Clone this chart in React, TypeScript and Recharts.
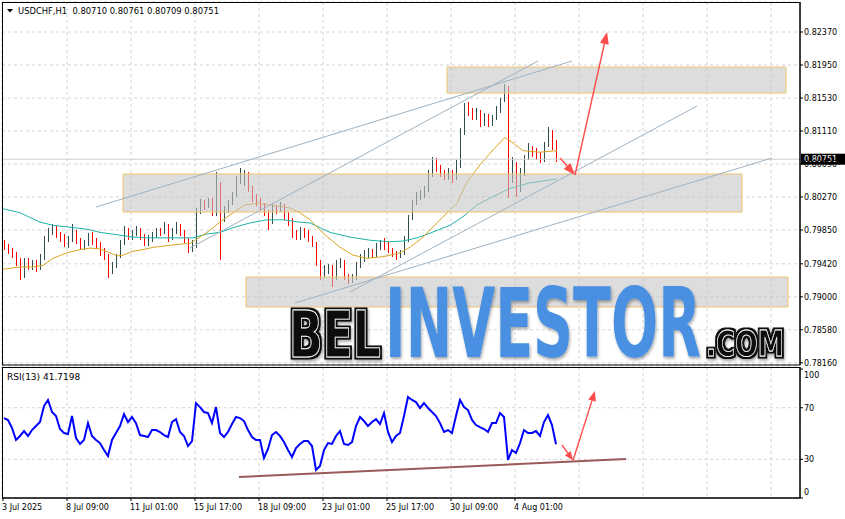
import React from 'react';
import {
  ComposedChart,
  Bar,
  Line,
  XAxis,
  YAxis,
  CartesianGrid,
  ReferenceArea,
  ReferenceLine,
} from 'recharts';

// USDCHF H1, one candle per 4 hourly bars (oldest first)
const opens = [
  0.7968, 0.7963, 0.796, 0.7954, 0.7944, 0.7926, 0.7944, 0.7939, 0.7943, 0.7937,
  0.7951, 0.7975, 0.7982, 0.7985, 0.7979, 0.7975, 0.7967, 0.7972, 0.7982, 0.7972,
  0.7963, 0.7967, 0.7977, 0.797, 0.7967, 0.7957, 0.7952, 0.7932, 0.7939, 0.7951,
  0.7968, 0.7984, 0.7977, 0.7981, 0.7985, 0.7977, 0.7968, 0.7975, 0.7977, 0.7984,
  0.7982, 0.799, 0.7975, 0.7982, 0.799, 0.7982, 0.7972, 0.7962, 0.7966, 0.8008,
  0.8019, 0.8017, 0.8023, 0.8007, 0.8042, 0.8004, 0.8009, 0.8019, 0.803, 0.8049,
  0.8051, 0.8054, 0.8036, 0.8026, 0.8023, 0.8017, 0.8008, 0.7995, 0.8013, 0.801,
  0.8016, 0.8005, 0.7995, 0.7979, 0.7977, 0.7982, 0.7981, 0.7975, 0.7967, 0.7944,
  0.7926, 0.7934, 0.7937, 0.7924, 0.794, 0.7943, 0.7926, 0.7921, 0.7924, 0.7939,
  0.7949, 0.7953, 0.7957, 0.7953, 0.7962, 0.7967, 0.7966, 0.796, 0.7954, 0.7952,
  0.7956, 0.7972, 0.8, 0.8019, 0.8028, 0.803, 0.8036, 0.8055, 0.8072, 0.8064,
  0.8056, 0.8054, 0.8059, 0.8051, 0.8068, 0.811, 0.814, 0.8134, 0.813, 0.8135,
  0.8122, 0.813, 0.8121, 0.8128, 0.8138, 0.815, 0.8163, 0.8055, 0.8068, 0.8038,
  0.8059, 0.8077, 0.8087, 0.8083, 0.8078, 0.8074, 0.8093, 0.8106, 0.8096,
];
const highs = [
  0.7972, 0.7967, 0.7962, 0.7957, 0.7949, 0.7949, 0.7949, 0.7947, 0.7947, 0.7954,
  0.7977, 0.7988, 0.7993, 0.799, 0.7982, 0.798, 0.7977, 0.7993, 0.7985, 0.7975,
  0.7972, 0.7981, 0.7982, 0.7975, 0.797, 0.7962, 0.7954, 0.7944, 0.7954, 0.7972,
  0.799, 0.7988, 0.7985, 0.799, 0.7988, 0.798, 0.7979, 0.7982, 0.7988, 0.7988,
  0.7995, 0.7993, 0.7988, 0.7995, 0.7993, 0.7985, 0.7975, 0.7972, 0.8013, 0.8024,
  0.8023, 0.8026, 0.8026, 0.8059, 0.8046, 0.8016, 0.8023, 0.8033, 0.8054, 0.8064,
  0.8061, 0.8059, 0.8041, 0.8031, 0.8026, 0.8019, 0.801, 0.8018, 0.8017, 0.8021,
  0.8018, 0.8008, 0.8, 0.7985, 0.7989, 0.7988, 0.7985, 0.7977, 0.797, 0.7947,
  0.794, 0.7942, 0.794, 0.7947, 0.7949, 0.7947, 0.7929, 0.7929, 0.7944, 0.7954,
  0.796, 0.7962, 0.7961, 0.7968, 0.7972, 0.7975, 0.797, 0.7962, 0.7958, 0.796,
  0.7977, 0.8004, 0.8023, 0.8033, 0.8036, 0.8041, 0.8061, 0.8078, 0.8077, 0.8068,
  0.8061, 0.8064, 0.8061, 0.8074, 0.8115, 0.8147, 0.8148, 0.814, 0.814, 0.8138,
  0.8134, 0.8133, 0.8131, 0.8143, 0.8153, 0.8171, 0.8168, 0.8078, 0.8072, 0.8064,
  0.808, 0.8096, 0.8092, 0.8089, 0.8084, 0.8097, 0.8116, 0.8112, 0.81,
];
const lows = [
  0.796, 0.7954, 0.7949, 0.7939, 0.7921, 0.7924, 0.7934, 0.7934, 0.7932, 0.7934,
  0.7947, 0.797, 0.7979, 0.7975, 0.797, 0.7963, 0.7962, 0.797, 0.7967, 0.796,
  0.796, 0.7965, 0.7966, 0.7962, 0.7952, 0.7947, 0.7924, 0.7929, 0.7937, 0.7949,
  0.7966, 0.7972, 0.7972, 0.7977, 0.7972, 0.7965, 0.7965, 0.797, 0.7975, 0.7977,
  0.798, 0.797, 0.7972, 0.798, 0.7977, 0.7968, 0.7956, 0.7957, 0.7962, 0.8005,
  0.801, 0.8013, 0.8003, 0.8003, 0.7947, 0.7995, 0.8007, 0.8017, 0.8027, 0.8044,
  0.8041, 0.8033, 0.8021, 0.8016, 0.801, 0.8003, 0.7985, 0.7993, 0.8005, 0.8008,
  0.7998, 0.799, 0.7975, 0.7972, 0.7972, 0.7975, 0.797, 0.7963, 0.7939, 0.7921,
  0.7924, 0.7929, 0.7912, 0.7921, 0.7937, 0.7921, 0.7916, 0.7918, 0.7921, 0.7937,
  0.7944, 0.7949, 0.7949, 0.7951, 0.796, 0.796, 0.7956, 0.7951, 0.7947, 0.7949,
  0.7953, 0.797, 0.7998, 0.8017, 0.8023, 0.8026, 0.8033, 0.8052, 0.8059, 0.8052,
  0.8049, 0.8049, 0.8045, 0.8049, 0.8064, 0.8106, 0.813, 0.8125, 0.8125, 0.8116,
  0.8117, 0.8116, 0.8117, 0.8125, 0.8134, 0.8148, 0.8026, 0.8045, 0.8027, 0.8033,
  0.8054, 0.8074, 0.8078, 0.8074, 0.807, 0.8072, 0.8091, 0.8087, 0.8072,
];
const closes = [
  0.7963, 0.796, 0.7954, 0.7944, 0.7926, 0.7944, 0.7939, 0.7943, 0.7937, 0.7951,
  0.7975, 0.7982, 0.7985, 0.7979, 0.7975, 0.7967, 0.7972, 0.7982, 0.7972, 0.7963,
  0.7967, 0.7977, 0.797, 0.7967, 0.7957, 0.7952, 0.7932, 0.7939, 0.7951, 0.7968,
  0.7984, 0.7977, 0.7981, 0.7985, 0.7977, 0.7968, 0.7975, 0.7977, 0.7984, 0.7982,
  0.799, 0.7975, 0.7982, 0.799, 0.7982, 0.7972, 0.7962, 0.7966, 0.8008, 0.8019,
  0.8017, 0.8023, 0.8007, 0.8042, 0.8004, 0.8009, 0.8019, 0.803, 0.8049, 0.8051,
  0.8054, 0.8036, 0.8026, 0.8023, 0.8017, 0.8008, 0.7995, 0.8013, 0.801, 0.8016,
  0.8005, 0.7995, 0.7979, 0.7977, 0.7982, 0.7981, 0.7975, 0.7967, 0.7944, 0.7926,
  0.7934, 0.7937, 0.7924, 0.794, 0.7943, 0.7926, 0.7921, 0.7924, 0.7939, 0.7949,
  0.7953, 0.7957, 0.7953, 0.7962, 0.7967, 0.7966, 0.796, 0.7954, 0.7952, 0.7956,
  0.7972, 0.8, 0.8019, 0.8028, 0.803, 0.8036, 0.8055, 0.8072, 0.8064, 0.8056,
  0.8054, 0.8059, 0.8051, 0.8068, 0.811, 0.814, 0.8134, 0.813, 0.8135, 0.8122,
  0.813, 0.8121, 0.8128, 0.8138, 0.815, 0.8163, 0.8055, 0.8068, 0.8038, 0.8059,
  0.8077, 0.8087, 0.8083, 0.8078, 0.8074, 0.8093, 0.8106, 0.8096, 0.8075,
];
const rsi13 = [
  62.0, 60.5, 54.3, 45.0, 48.1, 51.9, 48.1, 52.7, 55.8, 58.9,
  71.3, 76.0, 66.7, 63.6, 53.5, 50.4, 49.6, 63.6, 46.5, 41.9,
  45.0, 58.1, 48.1, 45.0, 42.6, 37.2, 32.6, 45.0, 50.4, 55.8,
  65.1, 58.9, 62.8, 58.1, 48.8, 48.1, 47.3, 52.7, 52.7, 51.2,
  48.8, 47.3, 58.9, 61.2, 51.2, 48.1, 40.3, 44.2, 73.6, 70.5,
  66.7, 65.9, 58.1, 70.5, 50.4, 47.3, 51.2, 57.4, 62.8, 62.0,
  59.7, 52.7, 47.3, 45.0, 45.0, 31.0, 38.0, 48.8, 51.2, 48.1,
  43.4, 37.2, 31.8, 38.8, 41.9, 44.2, 44.2, 40.3, 21.7, 24.8,
  37.2, 42.6, 41.9, 48.1, 51.9, 41.9, 41.1, 43.4, 55.8, 62.8,
  59.7, 55.8, 58.9, 61.2, 57.4, 65.9, 51.2, 43.4, 48.1, 50.4,
  63.6, 78.3, 76.0, 74.4, 69.8, 73.6, 69.8, 66.7, 63.6, 58.1,
  51.2, 52.7, 50.4, 63.6, 76.0, 70.5, 68.2, 60.5, 56.6, 55.0,
  53.5, 51.2, 58.1, 58.1, 65.9, 62.8, 29.5, 37.2, 34.9, 42.6,
  52.7, 50.4, 50.4, 51.9, 48.1, 58.9, 64.3, 56.6, 41.7,
];

// moving averages sampled along the chart: bar position / value
const maFastPos = [
  0.25, 4.5, 7.75, 10.25, 12.75, 16.25, 19.5, 22, 24.5, 27, 28.75, 30.25, 32.75, 35.25, 37.75, 41.25,
  44.5, 47, 49.5, 51.25, 54.5, 57.75, 60.75, 64, 68.25, 72, 74.5, 77, 80.25, 84.5, 87.75, 91.25,
  95.25, 99.5, 102, 105.25, 109.5, 113.75, 116.25, 119.5, 122.75, 125.75, 127.75, 130.25, 134.5, 138.75,
];
const maFastVal = [
  0.7935, 0.7938, 0.7938, 0.794, 0.7949, 0.7956, 0.796, 0.7962, 0.7961, 0.7956, 0.7952, 0.7953, 0.7958, 0.796, 0.7963, 0.7965,
  0.7967, 0.7968, 0.7976, 0.7982, 0.7995, 0.8007, 0.8017, 0.8019, 0.8016, 0.8013, 0.8007, 0.7998, 0.7981, 0.7963, 0.7953, 0.7949,
  0.7951, 0.7956, 0.7963, 0.7976, 0.7998, 0.8019, 0.8046, 0.8068, 0.8087, 0.8103, 0.8096, 0.8086, 0.8084, 0.8086,
];
const maSlowPos = [
  0.25, 4.5, 9.5, 12.75, 16.25, 21.25, 24.5, 28.75, 32.75, 37, 41.25, 45.25, 47.75, 51.25, 54.5, 57.75, 62, 66.25,
  70.25, 74.5, 77, 82, 87, 92, 97, 100.25, 103.75, 107, 112, 115.25, 118.75, 123.75, 127, 132, 138.75,
];
const maSlowVal = [
  0.8012, 0.8007, 0.7995, 0.7991, 0.7989, 0.7986, 0.7982, 0.7979, 0.7976, 0.7975, 0.7975, 0.7975, 0.7975, 0.798, 0.7982, 0.7988, 0.7994, 0.7998,
  0.7998, 0.7995, 0.7994, 0.7982, 0.7976, 0.7972, 0.797, 0.7971, 0.7975, 0.7981, 0.7991, 0.8002, 0.8017, 0.803, 0.8038, 0.8045, 0.805,
];

const priceTicks = [0.7816, 0.7858, 0.79, 0.7942, 0.7985, 0.8027, 0.8069, 0.8111, 0.8153, 0.8195, 0.8237];
const rsiTicks = [0, 30, 70, 100];
const timeTicks = [0.25, 16.25, 32.25, 48.25, 64.25, 80.25, 96.25, 112.25, 128.25];
const timeLabels = [
  '3 Jul 2025', '8 Jul 09:00', '11 Jul 01:00', '15 Jul 17:00', '18 Jul 09:00',
  '23 Jul 01:00', '25 Jul 17:00', '30 Jul 09:00', '4 Aug 01:00',
];
const gridTicks = [
  8.25, 16.25, 24.25, 32.25, 40.25, 48.25, 56.25, 64.25, 72.25, 80.25, 88.25, 96.25,
  104.25, 112.25, 120.25, 128.25, 136.25, 144.25, 152.25, 160.25, 168.25, 176.25, 184.25, 192.25,
];
const lastPrice = 0.80751;
const headerText = 'USDCHF,H1  0.80710 0.80761 0.80709 0.80751';
const rsiText = 'RSI(13) 41.7198';

const X_DOMAIN = [0, 199.5];
const PRICE_DOMAIN = [0.78132, 0.82752];
const RSI_DOMAIN = [0, 101.6];

const BULL = '#2F4F4F';
const BEAR = '#FF0000';
const DRAW = '#FF4C4C';
const TREND = '#9EB2C2';
const ZONE_FILL = 'rgba(196,196,196,0.58)';
const ZONE_EDGE = '#F0C46E';
const GRID = '#d4d4d4';

const Candle = (props: any) => {
  const { x, y, width, height, payload } = props;
  if (x == null || !payload) return <g />;
  const top = height >= 0 ? y : y + height;
  const h = Math.abs(height);
  const { open, close, high, low } = payload;
  const k = h / (high - low || 1e-9);
  const yo = top + (high - open) * k;
  const yc = top + (high - close) * k;
  const color = close >= open ? BULL : BEAR;
  const left = Math.round(x);
  const w = Math.round(width);
  return (
    <g shapeRendering="crispEdges">
      <rect x={left + Math.floor(w / 2)} y={top} width={1} height={Math.max(h, 1)} fill={color} />
      <rect x={left} y={Math.min(yo, yc)} width={w} height={Math.max(1, Math.abs(yc - yo))} fill={color} />
    </g>
  );
};

const Arrow = (props: any) => {
  const { x1, y1, x2, y2, stroke, head = 12, half = 4.5 } = props;
  if (x1 == null) return <g />;
  const a = Math.atan2(y2 - y1, x2 - x1);
  const bx = x2 - head * Math.cos(a);
  const by = y2 - head * Math.sin(a);
  const px = -Math.sin(a) * half;
  const py = Math.cos(a) * half;
  return (
    <g>
      <line x1={x1} y1={y1} x2={bx} y2={by} stroke={stroke} strokeWidth={1.4} />
      <polygon points={`${x2},${y2} ${bx + px},${by + py} ${bx - px},${by - py}`} fill={stroke} />
    </g>
  );
};

const PriceTag = (props: any) => {
  const vb = props.viewBox;
  if (!vb) return null;
  const x = vb.x + vb.width + 1;
  return (
    <g>
      <rect x={x} y={vb.y - 5.5} width={44} height={11} fill="#000" />
      <text x={x + 3} y={vb.y + 3} fontSize={8} fill="#fff">{lastPrice.toFixed(5)}</text>
    </g>
  );
};

const RsiTick = (props: any) => {
  const { x, y, payload } = props;
  const shift = payload.value === 100 ? 6 : payload.value === 0 ? -6 : 0;
  return (
    <text x={x} y={y + shift} dy="0.355em" fontSize={8} fill="#000" textAnchor="start">
      {payload.value}
    </text>
  );
};

const TimeTick = (props: any) => {
  const { x, y, payload } = props;
  const idx = timeTicks.indexOf(payload.value);
  return (
    <text x={x - 1} y={y} dy="0.71em" fontSize={8} fill="#000" textAnchor="start">
      {timeLabels[idx]}
    </text>
  );
};

// squeezed bold lettering for the watermark (scaled horizontally, so its box stays tight)
const Squeezed = ({ x, y, width, size, squeeze, children, ...rest }: any) => (
  <text
    transform={`translate(${x},${y}) scale(${squeeze},1)`}
    x={0}
    y={0}
    fontSize={size}
    textLength={width / squeeze}
    lengthAdjust="spacingAndGlyphs"
    {...rest}
  >
    {children}
  </text>
);

export default function App() {
  const bars = closes.map((c, k) => ({
    i: k + 0.5,
    open: opens[k],
    high: highs[k],
    low: lows[k],
    close: c,
    rsi: rsi13[k],
  }));
  const maFast = maFastPos.map((i, k) => ({ i, ma: maFastVal[k] }));
  const maSlow = maSlowPos.map((i, k) => ({ i, ma: maSlowVal[k] }));

  return (
    <div style={{ position: 'absolute', left: 0, top: 0, width: 845, height: 519, background: '#fff', fontFamily: '"DejaVu Sans", sans-serif' }}>
      <div style={{ position: 'absolute', left: 0, top: 0 }}>
        <ComposedChart width={845} height={367} data={bars} margin={{ top: 2, right: 0, bottom: 2, left: 2 }}>
          <CartesianGrid stroke={GRID} strokeDasharray="3 3" />
          <XAxis dataKey="i" type="number" domain={X_DOMAIN} ticks={gridTicks} hide allowDataOverflow />
          <YAxis
            orientation="right"
            width={45}
            domain={PRICE_DOMAIN}
            ticks={priceTicks}
            interval={0}
            allowDataOverflow
            tickFormatter={(v: number) => v.toFixed(5)}
            tick={{ fontSize: 8, fill: '#000' }}
            tickSize={3}
            tickMargin={1}
            axisLine={{ stroke: '#000' }}
            tickLine={{ stroke: '#000' }}
          />
          <Line data={maSlow} dataKey="ma" stroke="#20B2AA" strokeWidth={1} dot={false} isAnimationActive={false} />
          <Line data={maFast} dataKey="ma" stroke="#DAA520" strokeWidth={1} dot={false} isAnimationActive={false} />
          <Bar dataKey={(d: any) => [d.low, d.high]} barSize={3} shape={Candle} isAnimationActive={false} />
          <ReferenceArea x1={111.25} x2={196} y1={0.81593} y2={0.81924} fill={ZONE_FILL} fillOpacity={1} stroke={ZONE_EDGE} ifOverflow="visible" zIndex={450} />
          <ReferenceArea x1={30.25} x2={185} y1={0.80079} y2={0.80563} fill={ZONE_FILL} fillOpacity={1} stroke={ZONE_EDGE} ifOverflow="visible" zIndex={450} />
          <ReferenceArea x1={61} x2={196.5} y1={0.7887} y2={0.79252} fill={ZONE_FILL} fillOpacity={1} stroke={ZONE_EDGE} ifOverflow="visible" zIndex={450} />
          <ReferenceLine y={lastPrice} stroke="#cfcfcf" label={<PriceTag />} ifOverflow="visible" />
          <ReferenceLine segment={[{ x: 23.5, y: 0.80143 }, { x: 142.5, y: 0.82001 }]} stroke={TREND} ifOverflow="visible" zIndex={460} />
          <ReferenceLine segment={[{ x: 47, y: 0.79621 }, { x: 134, y: 0.82001 }]} stroke={TREND} ifOverflow="visible" zIndex={460} />
          <ReferenceLine segment={[{ x: 87, y: 0.79061 }, { x: 173.75, y: 0.81428 }]} stroke={TREND} ifOverflow="visible" zIndex={460} />
          <ReferenceLine segment={[{ x: 73.25, y: 0.78921 }, { x: 192.5, y: 0.80766 }]} stroke={TREND} ifOverflow="visible" zIndex={460} />
          <ReferenceLine segment={[{ x: 139.5, y: 0.80766 }, { x: 143.25, y: 0.8055 }]} stroke={DRAW} shape={Arrow} ifOverflow="visible" zIndex={470} />
          <ReferenceLine segment={[{ x: 143.25, y: 0.8055 }, { x: 151.25, y: 0.8237 }]} stroke={DRAW} shape={Arrow} ifOverflow="visible" zIndex={470} />
        </ComposedChart>
      </div>
      <div style={{ position: 'absolute', left: 0, top: 365 }}>
        <ComposedChart width={845} height={154} data={bars} margin={{ top: 2, right: 0, bottom: 0, left: 2 }}>
          <XAxis xAxisId="g" dataKey="i" type="number" domain={X_DOMAIN} ticks={gridTicks} hide allowDataOverflow />
          <YAxis yAxisId="g" domain={RSI_DOMAIN} ticks={[30, 70]} hide allowDataOverflow />
          <CartesianGrid xAxisId="g" yAxisId="g" stroke={GRID} strokeDasharray="3 3" />
          <XAxis
            dataKey="i"
            type="number"
            domain={X_DOMAIN}
            ticks={timeTicks}
            interval={0}
            allowDataOverflow
            height={21}
            tick={<TimeTick />}
            tickSize={3}
            tickMargin={3}
            axisLine={{ stroke: '#000' }}
            tickLine={{ stroke: '#000' }}
          />
          <YAxis
            orientation="right"
            width={45}
            domain={RSI_DOMAIN}
            ticks={rsiTicks}
            interval={0}
            allowDataOverflow
            tick={<RsiTick />}
            tickSize={3}
            tickMargin={1}
            axisLine={{ stroke: '#000' }}
            tickLine={{ stroke: '#000' }}
          />
          <ReferenceLine segment={[{ x: 59.25, y: 16.3 }, { x: 156, y: 30.2 }]} stroke="#9B5A5A" strokeWidth={2} ifOverflow="visible" />
          <Line dataKey="rsi" stroke="#0000FF" strokeWidth={2} dot={false} isAnimationActive={false} />
          <ReferenceLine segment={[{ x: 140, y: 41.1 }, { x: 142.75, y: 29.1 }]} stroke={DRAW} shape={<Arrow head={9} half={3.5} />} ifOverflow="visible" />
          <ReferenceLine segment={[{ x: 142.75, y: 29.1 }, { x: 148.25, y: 82.9 }]} stroke={DRAW} shape={<Arrow head={10} half={4} />} ifOverflow="visible" />
        </ComposedChart>
      </div>
      <svg width={845} height={519} style={{ position: 'absolute', left: 0, top: 0, pointerEvents: 'none' }}>
        <defs>
          <filter id="logoShadow" x="-10%" y="-10%" width="120%" height="130%">
            <feDropShadow dx="1" dy="2" stdDeviation="1.5" floodColor="#000" floodOpacity="0.35" />
          </filter>
          <filter id="blackRim" x="-10%" y="-20%" width="120%" height="140%">
            <feMorphology in="SourceAlpha" operator="dilate" radius="2" result="grown" />
            <feFlood floodColor="#111" />
            <feComposite in2="grown" operator="in" result="rim" />
            <feMerge>
              <feMergeNode in="rim" />
              <feMergeNode in="SourceGraphic" />
            </feMerge>
          </filter>
        </defs>
        <rect x={2.5} y={2.5} width={797.5} height={362.5} fill="none" stroke="#000" />
        <rect x={2.5} y={367.5} width={797.5} height={130.5} fill="none" stroke="#000" />
        <polygon points="7,9 13,9 10,12.5" fill="#000" />
        <text x={18} y={14} fontSize={8.4} fill="#000" style={{ whiteSpace: 'pre' }}>{headerText}</text>
        <text x={7} y={380} fontSize={9} fill="#000">{rsiText}</text>
        <g filter="url(#logoShadow)" fontFamily='"DejaVu Sans", sans-serif' fontWeight="bold">
          <g filter="url(#blackRim)">
            <Squeezed x={289} y={357} width={92} size={64} squeeze={0.68} fill="#111" stroke="#fff" strokeWidth={0.9}>BEL</Squeezed>
          </g>
          <Squeezed x={385} y={357} width={316} size={97} squeeze={0.57} fill="#4A90E2">INVESTOR</Squeezed>
          <g filter="url(#blackRim)">
            <Squeezed x={706} y={356} width={78} size={36} squeeze={0.73} fill="#111" stroke="#fff" strokeWidth={0.8}>.COM</Squeezed>
          </g>
        </g>
      </svg>
    </div>
  );
}
